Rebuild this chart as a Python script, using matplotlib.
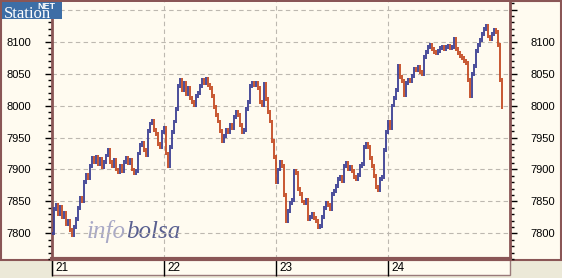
import matplotlib
matplotlib.use("Agg")
import matplotlib.pyplot as plt
from matplotlib.patches import Rectangle
from matplotlib.ticker import MultipleLocator, FuncFormatter
from matplotlib.transforms import blended_transform_factory

# =====================
# data (closing price of each intraday bar)
# =====================
DAYS = ["21", "22", "23", "24"]

day21 = [7800, 7838, 7845, 7830, 7842, 7825, 7832, 7815, 7820, 7805, 7798, 7810,
         7822, 7840, 7855, 7850, 7880, 7892, 7886, 7905, 7918, 7912, 7920, 7908,
         7916, 7904, 7912, 7922, 7930, 7912, 7906, 7915, 7900, 7896, 7905, 7898,
         7912, 7918, 7910, 7915, 7900, 7894, 7898, 7925, 7938, 7942, 7930, 7922,
         7960, 7972, 7976, 7962, 7955, 7940, 7935, 7958]
day22 = [7965, 7925, 7905, 7935, 7958, 7975, 7995, 8030, 8040, 8025, 8035, 8018,
         8028, 8012, 8005, 8000, 8015, 8020, 8030, 8040, 8035, 8042, 8032, 8028,
         8015, 7998, 7985, 7975, 7960, 7945, 7952, 7962, 7958, 7970, 7965, 7982,
         7990, 7985, 7970, 7958, 7962, 7995, 8005, 8030, 8036, 8032, 8035, 8028,
         8005, 8000, 8034, 8010, 7990, 7975, 7945, 7920]
day23 = [7880, 7900, 7912, 7905, 7860, 7820, 7835, 7848, 7852, 7898, 7895, 7870,
         7862, 7850, 7848, 7852, 7822, 7826, 7830, 7824, 7820, 7810, 7812, 7826,
         7840, 7848, 7845, 7838, 7862, 7866, 7874, 7885, 7888, 7882, 7905, 7910,
         7900, 7904, 7898, 7888, 7885, 7892, 7905, 7908, 7935, 7940, 7935, 7918,
         7905, 7890, 7872, 7868, 7885, 7888, 7930, 7958]
day24 = [7975, 7965, 8000, 8012, 8025, 8062, 8045, 8038, 8016, 8035, 8040, 8038,
         8046, 8058, 8055, 8060, 8052, 8050, 8076, 8084, 8092, 8095, 8088, 8084,
         8082, 8085, 8090, 8092, 8088, 8092, 8094, 8090, 8092, 8105, 8088, 8082,
         8078, 8075, 8070, 8066, 8040, 8015, 8050, 8062, 8085, 8095, 8102, 8112,
         8120, 8125, 8108, 8104, 8112, 8118, 8115, 8095, 8040, 7998]

Y_TICKS = [7800, 7850, 7900, 7950, 8000, 8050, 8100, 8150]

CREAM = "#FFFBF0"
BROWN = "#8A5656"
BLUE = "#3C3F94"
RED = "#C44A22"
GREY = "#ECE9D8"

closes = day21 + day22 + day23 + day24
day_start = [0, len(day21), len(day21) + len(day22), len(day21) + len(day22) + len(day23)]

# =====================
# figure
# =====================
W, H = 562, 278
fig = plt.figure(figsize=(W / 100, H / 100), dpi=100)
fig.patch.set_facecolor(GREY)

# top panel and date strip
fig.patches.append(Rectangle((0.5 / W, 18 / H), (W - 2) / W, 259.5 / H, transform=fig.transFigure,
                             fc=CREAM, ec=BROWN, lw=1.5, zorder=-2))
fig.patches.append(Rectangle((52 / W, 3 / H), 458 / W, 16 / H, transform=fig.transFigure,
                             fc=CREAM, ec="#9A7A7A", lw=1.0, zorder=-1))

ax = fig.add_axes([52 / W, 19 / H, 458 / W, 257 / H])
ax.set_facecolor(CREAM)
ax.set_xlim(0, 229)
ax.set_ylim(7760, 8162)

for s in ["left", "right"]:
    ax.spines[s].set_color(BROWN)
    ax.spines[s].set_linewidth(2)
ax.spines["bottom"].set_color(BROWN)
ax.spines["bottom"].set_linewidth(3)
ax.spines["top"].set_visible(False)

# grid
ax.set_yticks(Y_TICKS)
ax.yaxis.set_minor_locator(MultipleLocator(10))
ax.yaxis.set_major_formatter(FuncFormatter(lambda v, p: "" if v > 8120 else f"{v:.0f}"))
ax.grid(True, axis="y", which="major", ls=(0, (4, 3)), color="#BDB8B0", lw=0.8)
for d in day_start[1:]:
    ax.axvline(d, ls=(0, (4, 3)), color="#BDB8B0", lw=0.8, zorder=0.5)

ax.tick_params(axis="y", which="both", left=True, right=True, labelleft=True, labelright=True,
               color="black", width=1, labelsize=8, pad=10)
ax.tick_params(axis="y", which="major", length=5)
ax.tick_params(axis="y", which="minor", length=3)
ax.set_xticks(day_start)
ax.set_xticklabels([])
ax.tick_params(axis="x", length=12, width=1, color="black")
for lab in ax.get_yticklabels():
    lab.set_fontfamily("Liberation Sans")

# day labels
trans = blended_transform_factory(ax.transData, ax.transAxes)
for d, name in zip(day_start, DAYS):
    ax.text(d + 1.5, -0.036, name, transform=trans, ha="left", va="center",
            fontsize=8.5, family="Liberation Sans", color="black")

# bars: each bar spans previous close -> close, blue up / red down
for i, c in enumerate(closes):
    prev = closes[i - 1] if i > 0 else c
    col = BLUE if c >= prev else RED
    lo, hi = min(prev, c), max(prev, c)
    ax.vlines(i, lo - 3, hi + 3, color=col, lw=1.3, zorder=3)

# watermark
ax.text(87 / W, 40 / H, "info", transform=fig.transFigure, fontsize=18, style="italic",
        family="Liberation Serif", color="#A9A9C6", va="baseline", zorder=1)
ax.text(126 / W, 40 / H, "bolsa", transform=fig.transFigure, fontsize=18, style="italic",
        family="Liberation Serif", color="#5A6090", va="baseline", zorder=1)

# StationNET logo
fig.patches.append(Rectangle((2 / W, (H - 19) / H), 60 / W, 17 / H, transform=fig.transFigure,
                             fc="#3D6EA6", ec="none", zorder=5))
fig.text(4 / W, (H - 17.5) / H, "Station", family="Liberation Serif", fontsize=12,
         color="white", va="baseline", zorder=6)
fig.text(37 / W, (H - 9) / H, "NET", family="Liberation Sans", fontsize=6.5,
         weight="bold", color="white", va="baseline", zorder=6)

fig.savefig("out.png", dpi=100, facecolor=fig.get_facecolor())
